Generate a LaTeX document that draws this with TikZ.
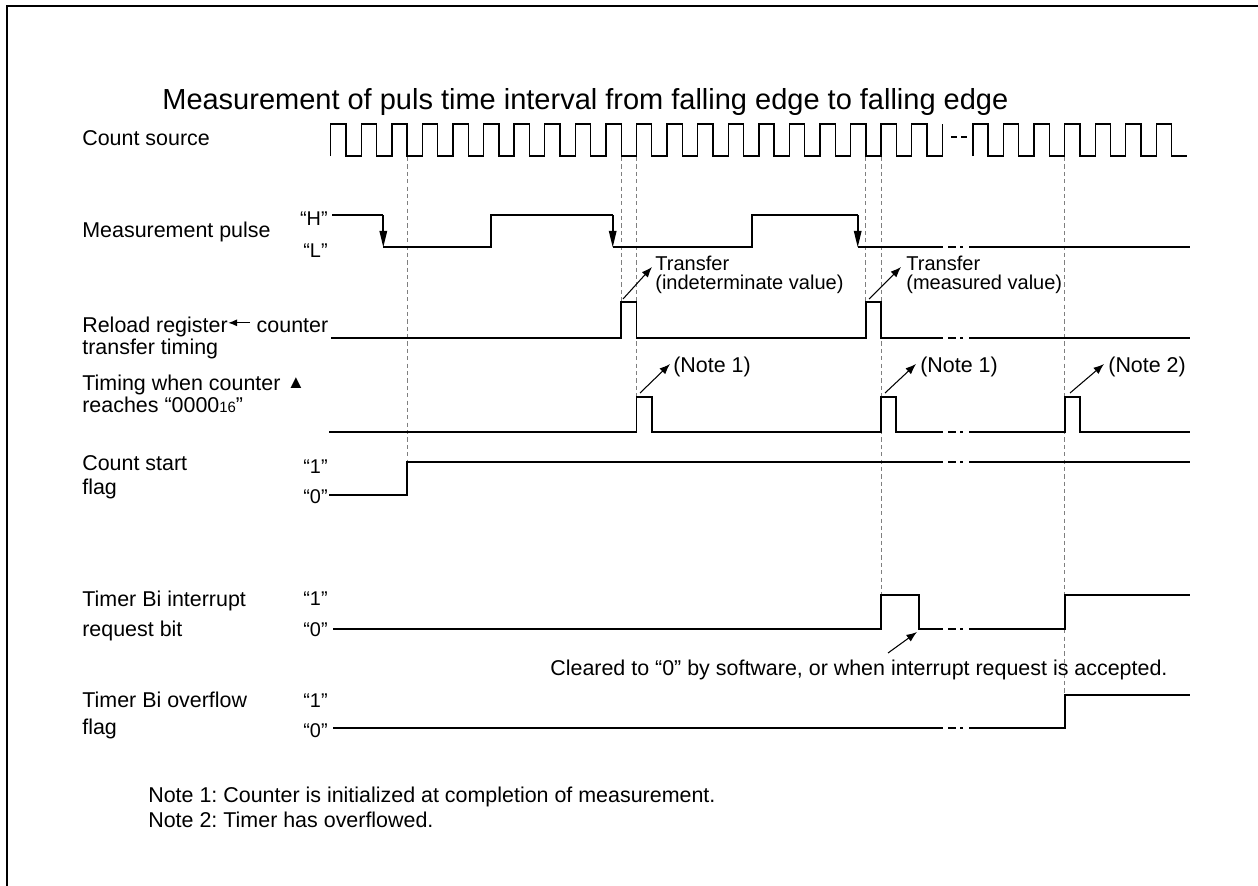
\documentclass[tikz,border=0pt]{standalone}
\usepackage{fontspec}
\setmainfont{Liberation Sans}
\usetikzlibrary{arrows.meta}
\definecolor{guideGray}{HTML}{7F7F7F}
\frenchspacing
\tikzset{
  lbl/.style={anchor=base west,inner sep=0pt,font=\fontsize{12.2}{14}\selectfont},
  lvl/.style={anchor=base east,inner sep=0pt,font=\fontsize{11.3}{13}\selectfont},
  small/.style={anchor=base west,inner sep=0pt,font=\fontsize{11.4}{13}\selectfont},
  sig/.style={line width=1.1pt},
  clk/.style={line width=0.8pt},
  guide/.style={guideGray,line width=0.5pt,dash pattern=on 2.4pt off 1.8pt},
  ann/.style={line width=0.6pt,-{Latex[length=6pt,width=4.6pt]}},
  fall/.style={line width=1.1pt,-{Triangle[length=9.5pt,width=4.2pt]}},
}
\newcommand\sigbreak[1]{\draw[sig] (948,#1) -- (956,#1) (960,#1) -- (963,#1);}
\newcommand\leftarr{\raisebox{0.5ex}{\tikz\draw[line width=0.6pt,-{Latex[length=5pt,width=4pt]}] (0.44cm,0) -- (0,0);}}
\begin{document}
\begin{tikzpicture}[x=0.02cm,y=-0.02cm]
\useasboundingbox (0,0) rectangle (1258,886);
\def\hp{15.29}
\def\xo{330.7}
\draw[line width=1.5pt] (7,886) -- (7,6) -- (1258,6);
\node[anchor=base west,inner sep=0pt,font=\fontsize{16.5}{18}\selectfont] (title) at (162,109) {Measurement of puls time interval from falling edge to falling edge};
\node[lbl] (lCount) at (82,145) {Count source};
\node[lbl] (lPulse) at (82,237) {Measurement pulse};
\node[lbl] (lReloadA) at (82,332) {Reload register\leftarr\ counter};
\node[lbl] (lReloadB) at (82,354) {transfer timing};
\node[lbl] (lZeroA) at (82,390) {Timing when counter};
\node[anchor=base,inner sep=0pt,font=\fontsize{10.5}{12}\selectfont] (lTri) at (296,388) {▲};
\node[lbl] (lZeroB) at (82,412) {reaches “0000{\fontsize{8.5}{9}\selectfont 16}”};
\node[lbl] (lStartA) at (82,470) {Count start};
\node[lbl] (lStartB) at (82,494) {flag};
\node[lbl] (lIrqA) at (82,606) {Timer Bi interrupt};
\node[lbl] (lIrqB) at (82,636) {request bit};
\node[lbl] (lOvfA) at (82,707) {Timer Bi overflow};
\node[lbl] (lOvfB) at (82,734) {flag};
\node[lvl] (vH) at (328,225) {“H”};
\node[lvl] (vL) at (328,257) {“L”};
\node[lvl] (vS1) at (328,473) {“1”};
\node[lvl] (vS0) at (328,503) {“0”};
\node[lvl] (vI1) at (328,605) {“1”};
\node[lvl] (vI0) at (328,636) {“0”};
\node[lvl] (vO1) at (328,707) {“1”};
\node[lvl] (vO0) at (328,737) {“0”};
\draw[guide] (407.2,157) -- (407.2,462);
\draw[guide] (621.2,157) -- (621.2,302);
\draw[guide] (636.5,157) -- (636.5,397);
\draw[guide] (865.9,157) -- (865.9,302);
\draw[guide] (881.1,157) -- (881.1,595);
\draw[guide] (1064.6,157) -- (1064.6,695);
\draw[clk] (\xo,156) foreach \k in {0,...,19} {-- ({\xo+2*\k*\hp},124) -- ({\xo+(2*\k+1)*\hp},124) -- ({\xo+(2*\k+1)*\hp},156) -- ({\xo+(2*\k+2)*\hp},156)} -- ({\xo+40*\hp},124);
\draw[clk] (951,137) -- (957,137) (961,137) -- (967,137);
\draw[clk] ({\xo+42*\hp},156) foreach \k in {21,...,27} {-- ({\xo+2*\k*\hp},124) -- ({\xo+(2*\k+1)*\hp},124) -- ({\xo+(2*\k+1)*\hp},156) -- ({\xo+(2*\k+2)*\hp},156)};
\draw[sig] (332,215) -- (383.3,215);
\draw[fall] (383.3,215) -- (383.3,247.5);
\draw[sig] (383.3,247) -- (491,247) -- (491,215) -- (612.7,215);
\draw[fall] (612.7,215) -- (612.7,247.5);
\draw[sig] (612.7,247) -- (751.7,247) -- (751.7,215) -- (857.7,215);
\draw[fall] (857.7,215) -- (857.7,247.5);
\draw[sig] (857.7,247) -- (943,247);
\sigbreak{247}
\draw[sig] (969,247) -- (1190,247);
\draw[sig] (331,338) -- (621.2,338) -- (621.2,302) -- (636.5,302) -- (636.5,338) -- (865.9,338) -- (865.9,302) -- (881.1,302) -- (881.1,338) -- (943,338);
\sigbreak{338}
\draw[sig] (969,338) -- (1190,338);
\draw[sig] (329,432) -- (636.5,432) -- (636.5,397) -- (651.8,397) -- (651.8,432) -- (881.1,432) -- (881.1,397) -- (896.4,397) -- (896.4,432) -- (943,432);
\sigbreak{432}
\draw[sig] (969,432) -- (1064.6,432) -- (1064.6,397) -- (1079.9,397) -- (1079.9,432) -- (1190,432);
\draw[sig] (329,495) -- (407.2,495) -- (407.2,462) -- (943,462);
\sigbreak{462}
\draw[sig] (969,462) -- (1190,462);
\draw[sig] (333,629) -- (881.1,629) -- (881.1,595) -- (919,595) -- (919,629) -- (943,629);
\sigbreak{629}
\draw[sig] (969,629) -- (1064.6,629) -- (1064.6,595) -- (1190,595);
\draw[sig] (333,728) -- (943,728);
\sigbreak{728}
\draw[sig] (969,728) -- (1064.6,728) -- (1064.6,695) -- (1190,695);
\node[small] (trA1) at (655,270) {Transfer};
\node[small] (trA2) at (655,289) {(indeterminate value)};
\node[small] (trB1) at (906,270) {Transfer};
\node[small] (trB2) at (906,289) {(measured value)};
\node[lbl] (noteA) at (673,372) {(Note 1)};
\node[lbl] (noteB) at (920,372) {(Note 1)};
\node[lbl] (noteC) at (1108,372) {(Note 2)};
\node[lbl] (clr) at (550,675) {Cleared to “0” by software, or when interrupt request is accepted.};
\node[lbl] (nt1) at (148,802) {Note 1: Counter is initialized at completion of measurement.};
\node[lbl] (nt2) at (148,827) {Note 2: Timer has overflowed.};
\coordinate (aA0) at (623,299);
\coordinate (aA1) at (652,267);
\coordinate (aB0) at (869,299);
\coordinate (aB1) at (901,267);
\coordinate (aC0) at (640,393);
\coordinate (aC1) at (670,364);
\coordinate (aD0) at (885,393);
\coordinate (aD1) at (916,364);
\coordinate (aE0) at (1070,393);
\coordinate (aE1) at (1104,364);
\coordinate (aF0) at (888,653);
\coordinate (aF1) at (917,632);
\draw[ann] (aA0) -- (aA1);
\draw[ann] (aB0) -- (aB1);
\draw[ann] (aC0) -- (aC1);
\draw[ann] (aD0) -- (aD1);
\draw[ann] (aE0) -- (aE1);
\draw[ann] (aF0) -- (aF1);
\end{tikzpicture}
\end{document}
